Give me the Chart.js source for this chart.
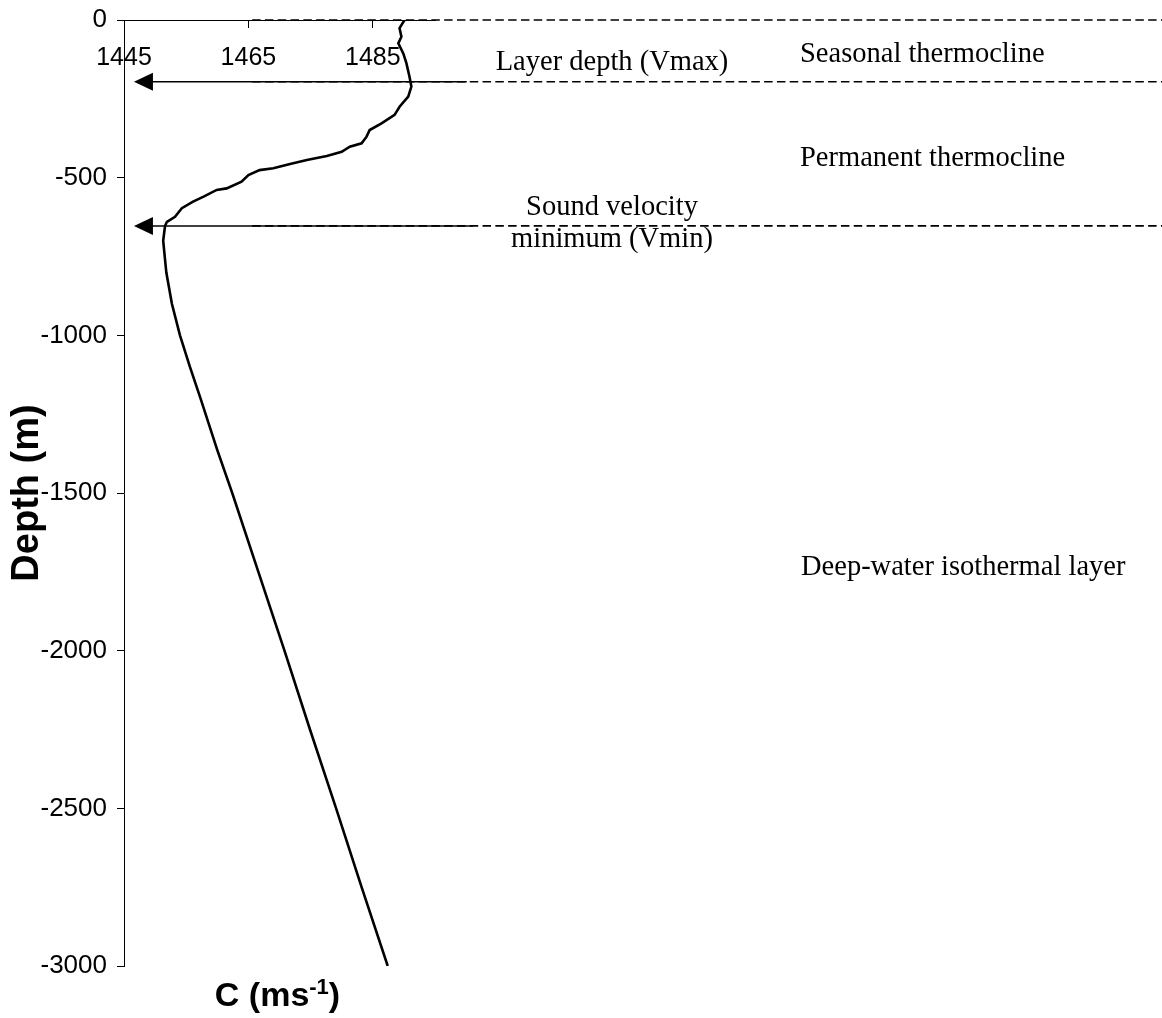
<!DOCTYPE html>
<html>
<head>
<meta charset="utf-8">
<title>Sound velocity profile</title>
<script src="https://cdn.jsdelivr.net/npm/chart.js@4.4.1/dist/chart.umd.min.js"></script>
<style>
  html, body { margin: 0; padding: 0; background: #fff; }
  #wrap { width: 1162px; height: 1018px; position: relative; }
</style>
</head>
<body>
<div id="wrap"><canvas id="profile"></canvas></div>
<script>
// sound velocity profile
const depths = [0, -26, -53, -74, -106, -137, -180, -211, -243, -275, -301, -328, -349, -370,
  -391, -402, -418, -431, -444, -457, -470, -476, -492, -513, -534, -539, -560, -576, -597,
  -624, -640, -653, -700, -800, -900, -1000, -1100, -1200, -1364, -1500, -1750, -2000,
  -2250, -2500, -2750, -3000];
const velocity = [1490.1, 1489.3, 1489.6, 1489.1, 1489.9, 1490.4, 1490.9, 1491.2, 1490.7, 1489.3,
  1488.5, 1486.4, 1484.5, 1484.0, 1483.2, 1481.3, 1480.0, 1477.6, 1474.4, 1471.7, 1469.0, 1466.8,
  1465.0, 1463.9, 1461.5, 1459.9, 1457.8, 1456.1, 1454.3, 1453.2, 1451.9, 1451.6, 1451.3, 1451.8,
  1452.7, 1454.0, 1455.6, 1457.3, 1460.0, 1462.4, 1466.6, 1470.8, 1474.9, 1479.1, 1483.2, 1487.4];

// axis ticks
const cTicks = [1445, 1465, 1485];
const depthTicks = [0, -500, -1000, -1500, -2000, -2500, -3000];

// layer boundaries (m) and the two marked depths
const layerBounds = [0, -196, -653];
const markedDepths = [-196, -653];

const sans = "'Liberation Sans', Arial, sans-serif";
const serif = "'Liberation Serif', 'Times New Roman', serif";

const overlay = {
  id: 'overlay',
  afterDatasetsDraw(chart) {
    const ctx = chart.ctx;
    const x = chart.scales.x, y = chart.scales.y;
    ctx.save();
    ctx.strokeStyle = '#000';
    ctx.fillStyle = '#000';

    // dashed layer boundaries
    ctx.lineWidth = 1.6;
    ctx.setLineDash([8.5, 4.3]);
    layerBounds.forEach(d => {
      const py = y.getPixelForValue(d);
      ctx.beginPath();
      ctx.moveTo(x.getPixelForValue(1465.6), py);
      ctx.lineTo(chart.width, py);
      ctx.stroke();
    });
    ctx.setLineDash([]);

    // arrows pointing at the axis
    ctx.lineWidth = 1.5;
    markedDepths.forEach((d, i) => {
      const py = y.getPixelForValue(d);
      const tip = x.getPixelForValue(1446.6);
      const end = x.getPixelForValue(i === 0 ? 1500.1 : 1501.1);
      ctx.beginPath();
      ctx.moveTo(tip + 18, py);
      ctx.lineTo(end, py);
      ctx.stroke();
      ctx.beginPath();
      ctx.moveTo(tip, py);
      ctx.lineTo(tip + 19, py - 9);
      ctx.lineTo(tip + 19, py + 9);
      ctx.closePath();
      ctx.fill();
    });

    // annotations
    ctx.font = '28.5px ' + serif;
    ctx.textBaseline = 'alphabetic';
    ctx.textAlign = 'center';
    ctx.fillText('Layer depth (Vmax)', 612, 70);
    ctx.fillText('Sound velocity', 612, 215);
    ctx.fillText('minimum (Vmin)', 612, 247);
    ctx.textAlign = 'left';
    ctx.fillText('Seasonal thermocline', 800, 62);
    ctx.fillText('Permanent thermocline', 800, 166);
    ctx.fillText('Deep-water isothermal layer', 801, 575);

    // x title with superscript
    const big = 'bold 34px ' + sans, small = 'bold 22px ' + sans;
    ctx.font = big;
    const w1 = ctx.measureText('C (ms').width, w3 = ctx.measureText(')').width;
    ctx.font = small;
    const w2 = ctx.measureText('-1').width;
    let cx = 277.5 - (w1 + w2 + w3) / 2;
    const by = 1006;
    ctx.font = big;
    ctx.fillText('C (ms', cx, by);
    cx += w1;
    ctx.font = small;
    ctx.fillText('-1', cx, by - 12);
    cx += w2;
    ctx.font = big;
    ctx.fillText(')', cx, by);
    ctx.restore();
  }
};

const ctx = document.getElementById('profile').getContext('2d');
new Chart(ctx, {
  type: 'scatter',
  data: {
    datasets: [{
      data: depths.map((d, i) => ({ x: velocity[i], y: d })),
      showLine: true,
      borderColor: '#000',
      borderWidth: 2.6,
      pointRadius: 0,
      tension: 0
    }]
  },
  options: {
    responsive: true,
    maintainAspectRatio: false,
    animation: false,
    layout: { padding: { left: 0, top: 20, right: 727, bottom: 52 } },
    plugins: { legend: { display: false }, tooltip: { enabled: false } },
    scales: {
      x: {
        type: 'linear',
        min: 1445,
        max: 1495,
        position: { y: 0 },
        afterBuildTicks: (axis) => { axis.ticks = cTicks.map(v => ({ value: v })); },
        ticks: {
          color: '#000', padding: 16, maxRotation: 0,
          font: { family: sans, size: 25 },
          callback: (v) => String(v)
        },
        grid: { drawOnChartArea: false, color: '#000', tickLength: 7 },
        border: { color: '#000', width: 1 }
      },
      y: {
        type: 'linear',
        min: -3000,
        max: 0,
        afterBuildTicks: (axis) => { axis.ticks = depthTicks.map(v => ({ value: v })); },
        afterFit: (axis) => {
          axis.width = 124;
          axis.paddingTop = 0;
          axis.paddingBottom = 0;
        },
        ticks: {
          color: '#000', padding: 10,
          font: { family: sans, size: 26 },
          callback: (v) => String(v)
        },
        grid: { drawOnChartArea: false, color: '#000', tickLength: 7 },
        border: { color: '#000', width: 1 },
        title: {
          display: true,
          text: 'Depth (m)',
          color: '#000',
          font: { family: sans, size: 38, weight: 'bold' },
          padding: { top: 5, bottom: 0 }
        }
      }
    }
  },
  plugins: [overlay]
});
</script>
</body>
</html>
